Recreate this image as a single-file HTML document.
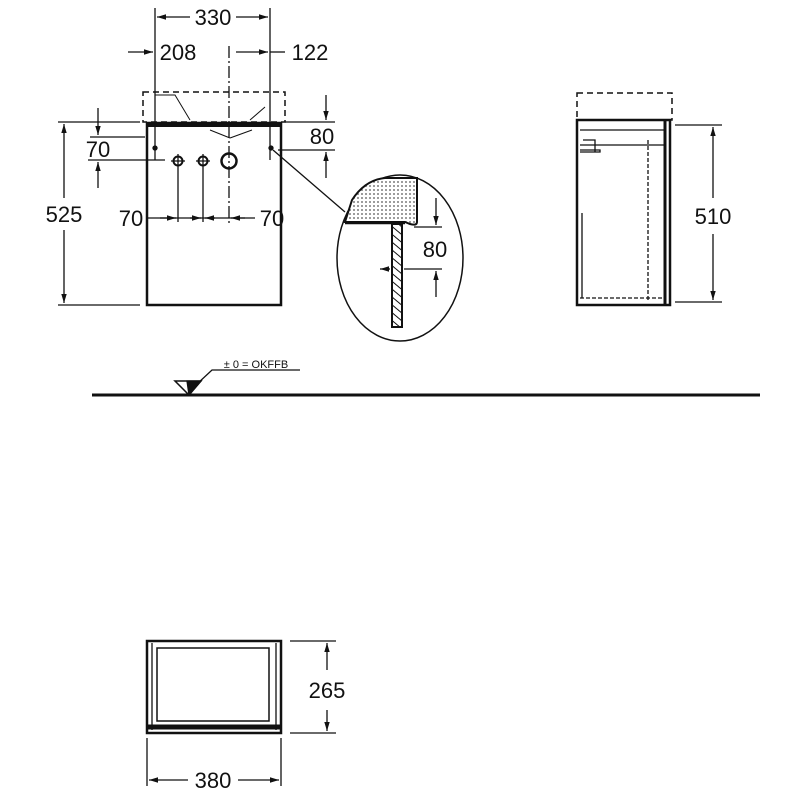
<!DOCTYPE html>
<html><head><meta charset="utf-8"><style>html,body{margin:0;padding:0;background:#fff}svg{display:block}</style></head>
<body>
<svg width="800" height="800" viewBox="0 0 800 800" xmlns="http://www.w3.org/2000/svg" font-family="Liberation Sans, sans-serif" fill="none" stroke="#111">
<defs>
<marker id="a" viewBox="0 0 10 10" refX="10" refY="5" markerWidth="7" markerHeight="7" orient="auto-start-reverse"><path d="M0,2 L10,5 L0,8 z" fill="#111" stroke="none"/></marker>
<pattern id="dots" width="4" height="4" patternUnits="userSpaceOnUse"><rect width="4" height="4" fill="#fff" stroke="none"/><circle cx="2" cy="2" r="0.9" fill="#555" stroke="none"/></pattern>
<pattern id="hatch" width="6" height="6" patternUnits="userSpaceOnUse" patternTransform="rotate(-50)"><rect width="6" height="6" fill="#fff" stroke="none"/><line x1="0" y1="0" x2="0" y2="6" stroke="#111" stroke-width="2"/></pattern>
</defs>
<g stroke-width="1.3">
<rect x="147" y="123" width="134" height="182" stroke-width="2.5"/>
<line x1="147" y1="125" x2="281" y2="125" stroke-width="4"/>
<rect x="143" y="92" width="142" height="30" stroke-dasharray="6,4" stroke-width="1.5"/>
<path d="M155 95 L175 95 L190 120 M250 120 L265 107 M230 138 L210 130 M230 138 L252 130" stroke-width="1"/>
<line x1="155" y1="8" x2="155" y2="160"/>
<line x1="270" y1="8" x2="270" y2="160"/>
<line x1="157" y1="17" x2="190" y2="17" marker-start="url(#a)"/>
<line x1="236" y1="17" x2="268" y2="17" marker-end="url(#a)"/>
<line x1="128" y1="52" x2="153" y2="52" marker-end="url(#a)"/>
<line x1="229" y1="46" x2="229" y2="225" stroke-dasharray="12,3,2,3"/>
<line x1="236" y1="52" x2="268" y2="52" marker-end="url(#a)"/>
<line x1="270" y1="52" x2="285" y2="52"/>
<line x1="90" y1="137" x2="145" y2="137"/>
<line x1="88" y1="160" x2="165" y2="160"/>
<line x1="98" y1="108" x2="98" y2="135" marker-end="url(#a)"/>
<line x1="98" y1="188" x2="98" y2="162" marker-end="url(#a)"/>
<circle cx="178" cy="161" r="4.5" stroke-width="2"/><path d="M171 161h14M178 154v14"/>
<circle cx="203" cy="161" r="4.5" stroke-width="2"/><path d="M196 161h14M203 154v14"/>
<circle cx="229" cy="161" r="7.5" stroke-width="2.5"/>
<circle cx="155" cy="148" r="2" fill="#111"/>
<circle cx="271" cy="148" r="2" fill="#111"/>
<line x1="273" y1="150" x2="345" y2="212"/>
<line x1="285" y1="122" x2="335" y2="122"/>
<line x1="278" y1="150" x2="335" y2="150"/>
<line x1="326" y1="95" x2="326" y2="120" marker-end="url(#a)"/>
<line x1="326" y1="178" x2="326" y2="152" marker-end="url(#a)"/>
<line x1="58" y1="122" x2="140" y2="122"/>
<line x1="58" y1="305" x2="140" y2="305"/>
<line x1="64" y1="124" x2="64" y2="198" marker-start="url(#a)"/>
<line x1="64" y1="230" x2="64" y2="303" marker-end="url(#a)"/>
<line x1="178" y1="168" x2="178" y2="222"/>
<line x1="203" y1="168" x2="203" y2="222"/>
<line x1="148" y1="218" x2="255" y2="218"/>
<line x1="160" y1="218" x2="176" y2="218" marker-end="url(#a)"/>
<line x1="190" y1="218" x2="201" y2="218" marker-end="url(#a)"/>
<line x1="215" y1="218" x2="205" y2="218" marker-end="url(#a)"/>
<line x1="245" y1="218" x2="231" y2="218" marker-end="url(#a)"/>
<ellipse cx="400" cy="258" rx="63" ry="83" stroke-width="1.5"/>
<path d="M345 222 L352 200 Q365 180 385 178 L417 178 L417 222 Q417 226 410 224 L405 222 L345 222 z" fill="url(#dots)" stroke-width="2"/>
<line x1="345" y1="223" x2="405" y2="223" stroke-width="2.5"/>
<rect x="392" y="224" width="10" height="103" fill="url(#hatch)" stroke-width="2"/>
<line x1="414" y1="227" x2="442" y2="227"/>
<line x1="404" y1="269" x2="442" y2="269"/>
<line x1="436" y1="198" x2="436" y2="225" marker-end="url(#a)"/>
<line x1="436" y1="297" x2="436" y2="271" marker-end="url(#a)"/>
<line x1="380" y1="269" x2="390" y2="269" marker-start="url(#a)"/>
<line x1="92" y1="395" x2="760" y2="395" stroke-width="3"/>
<path d="M175 381 L201 381 L189 395 z" stroke-width="1.5"/>
<path d="M187 381 L201 381 L189 395 z" fill="#111"/>
<path d="M197 384 L212 370 L300 370"/>
<rect x="577" y="120" width="93" height="185" stroke-width="2.5"/>
<line x1="665" y1="121" x2="665" y2="304" stroke-width="3"/>
<rect x="577" y="93" width="95" height="27" stroke-dasharray="6,4" stroke-width="1.5"/>
<line x1="580" y1="130" x2="665" y2="130"/>
<line x1="580" y1="145" x2="665" y2="145"/>
<line x1="648" y1="140" x2="648" y2="300" stroke-dasharray="4,2"/>
<line x1="580" y1="298" x2="665" y2="298" stroke-dasharray="4,2"/>
<line x1="582" y1="213" x2="582" y2="298"/>
<path d="M580 150 L600 150 L600 152 L580 152 M583 140 h12 v12"/>
<line x1="675" y1="125" x2="722" y2="125"/>
<line x1="675" y1="302" x2="722" y2="302"/>
<line x1="713" y1="127" x2="713" y2="198" marker-start="url(#a)"/>
<line x1="713" y1="234" x2="713" y2="300" marker-end="url(#a)"/>
<rect x="147" y="641" width="134" height="92" stroke-width="2.5"/>
<rect x="157" y="648" width="112" height="73" stroke-width="1.5"/>
<line x1="152" y1="643" x2="152" y2="730"/>
<line x1="276" y1="643" x2="276" y2="730"/>
<line x1="148" y1="727" x2="281" y2="727" stroke-width="5"/>
<line x1="290" y1="641" x2="336" y2="641"/>
<line x1="290" y1="733" x2="336" y2="733"/>
<line x1="327" y1="643" x2="327" y2="670" marker-start="url(#a)"/>
<line x1="327" y1="710" x2="327" y2="731" marker-end="url(#a)"/>
<line x1="147" y1="738" x2="147" y2="786"/>
<line x1="281" y1="738" x2="281" y2="786"/>
<line x1="149" y1="780" x2="188" y2="780" marker-start="url(#a)"/>
<line x1="238" y1="780" x2="279" y2="780" marker-end="url(#a)"/>
</g>
<g fill="#111" stroke="none" font-size="22" text-anchor="middle">
<text x="213" y="25">330</text>
<text x="178" y="60">208</text>
<text x="310" y="60">122</text>
<text x="98" y="157">70</text>
<text x="322" y="144">80</text>
<text x="64" y="222">525</text>
<text x="131" y="226">70</text>
<text x="272" y="226">70</text>
<text x="435" y="257">80</text>
<text x="713" y="224">510</text>
<text x="327" y="698">265</text>
<text x="213" y="788">380</text>
<text x="256" y="368" font-size="11">± 0 = OKFFB</text>
</g>
</svg>
</body></html>
